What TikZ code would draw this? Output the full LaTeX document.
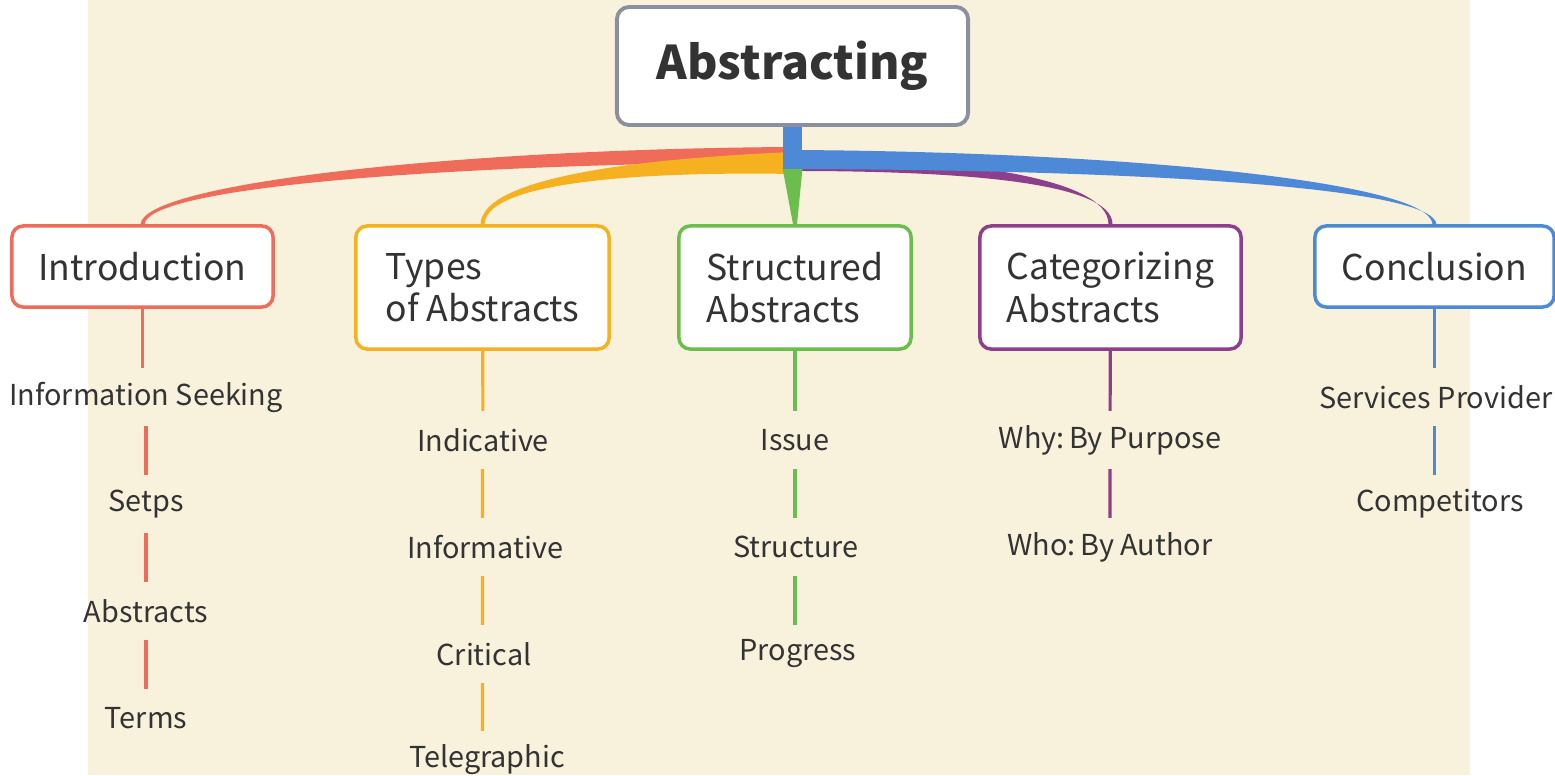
\documentclass[tikz,border=0pt]{standalone}
\usepackage{fontspec}
\setmainfont{Noto Sans CJK SC}
\usetikzlibrary{calc}
\definecolor{paper}{HTML}{F8F2DC}
\definecolor{ink}{HTML}{333333}
\definecolor{rootline}{HTML}{8A90A0}
\definecolor{cred}{HTML}{EF6B5A}
\definecolor{corange}{HTML}{F5B120}
\definecolor{cgreen}{HTML}{6BBE4E}
\definecolor{cpurple}{HTML}{8E3F8B}
\definecolor{cblue}{HTML}{4E89D8}

\begin{document}
\begin{tikzpicture}[x=0.01cm,y=-0.01cm,
  every node/.style={align=center,text=ink,inner sep=0pt},%
  top/.style={draw=rootline,fill=white,line width=1.1pt,rounded corners=3.5pt,%
    minimum width=3.51cm,minimum height=1.18cm,font=\fontsize{13.2}{16}\selectfont\bfseries},%
  box/.style={fill=white,line width=1pt,rounded corners=3.2pt,minimum height=0.81cm,%
    font=\fontsize{10.1}{12}\selectfont},%
  tall/.style={box,align=left,minimum height=1.23cm},%
  leaf/.style={minimum height=0.57cm,font=\fontsize{8.2}{10}\selectfont},%
  twig/.style={line width=0.9pt},%
  ]
  \useasboundingbox (0,0) rectangle (1555,775);
  \fill[paper] (88,0) rectangle (1470,775);

  % main topic and its five subtopics
  \node (root) [top] at (792.5,66) {Abstracting};
  \node (intro) [box,draw=cred,minimum width=2.61cm] at (142.5,266.5) {Introduction};
  \node (types) [tall,draw=corange,minimum width=2.53cm] at (482.5,287.5) {Types\\of Abstracts};
  \node (struct) [tall,draw=cgreen,minimum width=2.32cm] at (795,287.5) {Structured\\Abstracts};
  \node (categ) [tall,draw=cpurple,minimum width=2.61cm] at (1110.5,287.5) {Categorizing\\Abstracts};
  \node (concl) [box,draw=cblue,minimum width=2.39cm] at (1434.5,266.5) {Conclusion};

  % branches
  \coordinate (hub) at ($(root.south)+(0,27)$);
  \fill[cred] ([shift={(0,-7)}]hub) .. controls +(-337,2) and +(3,-41) .. ([shift={(-2,0)}]intro.north)
    -- ([shift={(2,0)}]intro.north) .. controls +(4,-38) and +(-337,2) .. ([shift={(0,8)}]hub) -- cycle;
  \fill[corange] ([shift={(0,-2)}]hub) .. controls +(-113,5) and +(2,-53) .. ([shift={(-2,0)}]types.north)
    -- ([shift={(2,0)}]types.north) .. controls +(2,-48) and +(-110,-2) .. ([shift={(0,20)}]hub) -- cycle;
  \fill[cpurple] ([shift={(0,2)}]hub) .. controls +(157,2) and +(0,-48) .. ([shift={(-2,0)}]categ.north)
    -- ([shift={(2,0)}]categ.north) .. controls +(0,-44) and +(155,0) .. ([shift={(0,17)}]hub) -- cycle;
  \fill[cblue] ([shift={(0,-4)}]hub) .. controls +(337,2) and +(-2,-42) .. ([shift={(-2,0)}]concl.north)
    -- ([shift={(2,0)}]concl.north) .. controls +(-4,-38) and +(337,1) .. ([shift={(0,15)}]hub) -- cycle;
  \fill[cgreen] ($(hub)+(-10,14)$) -- ($(hub)+(10,14)$) -- ([shift={(2,0)}]struct.north)
    -- ([shift={(-2,0)}]struct.north) -- cycle;
  \fill[cblue] ($(root.south)+(-10,0)$) rectangle ($(hub)+(9,15)$);

  % Introduction
  \node (seek) [leaf] at (146,397) {Information Seeking};
  \node (setps) [leaf] at (146,504) {Setps};
  \node (abst) [leaf] at (146,611) {Abstracts};
  \node (terms) [leaf] at (146,718) {Terms};
  \draw[twig,cred] (intro) -- (intro|-seek.north) (seek) -- (setps) (setps) -- (abst) (abst) -- (terms);

  % Types of Abstracts
  \node (indic) [leaf] at (483,440) {Indicative};
  \node (inform) [leaf] at (485,547) {Informative};
  \node (crit) [leaf] at (484,654) {Critical};
  \node (teleg) [leaf] at (487,760) {Telegraphic};
  \draw[twig,corange] (types) -- (indic) (indic.south-|types) -- (inform.north-|types)
    (crit.north-|types) -- (inform.south-|types) (crit.south-|types) -- (teleg.north-|types);

  % Structured Abstracts
  \node (issue) [leaf] at (795,440) {Issue};
  \node (struc) [leaf] at (796,547) {Structure};
  \node (prog) [leaf] at (798,654) {Progress};
  \draw[twig,cgreen] (struct) -- (issue) (issue) -- (struc.north-|issue) (struc.south-|issue) -- (prog.north-|issue);

  % Categorizing Abstracts
  \node (why) [leaf] at (1110,440) {Why:\,By Purpose};
  \node (who) [leaf] at (1110,547) {Who:\,By Author};
  \draw[twig,cpurple] (categ) -- (why) (why) -- (who);

  % Conclusion
  \node (serv) [leaf] at (1436,397) {Services Provider};
  \node (comp) [leaf] at (1440,504) {Competitors};
  \draw[twig,cblue] (concl) -- (concl|-serv.north) (serv.south-|concl) -- (comp.north-|concl);
\end{tikzpicture}
\end{document}
